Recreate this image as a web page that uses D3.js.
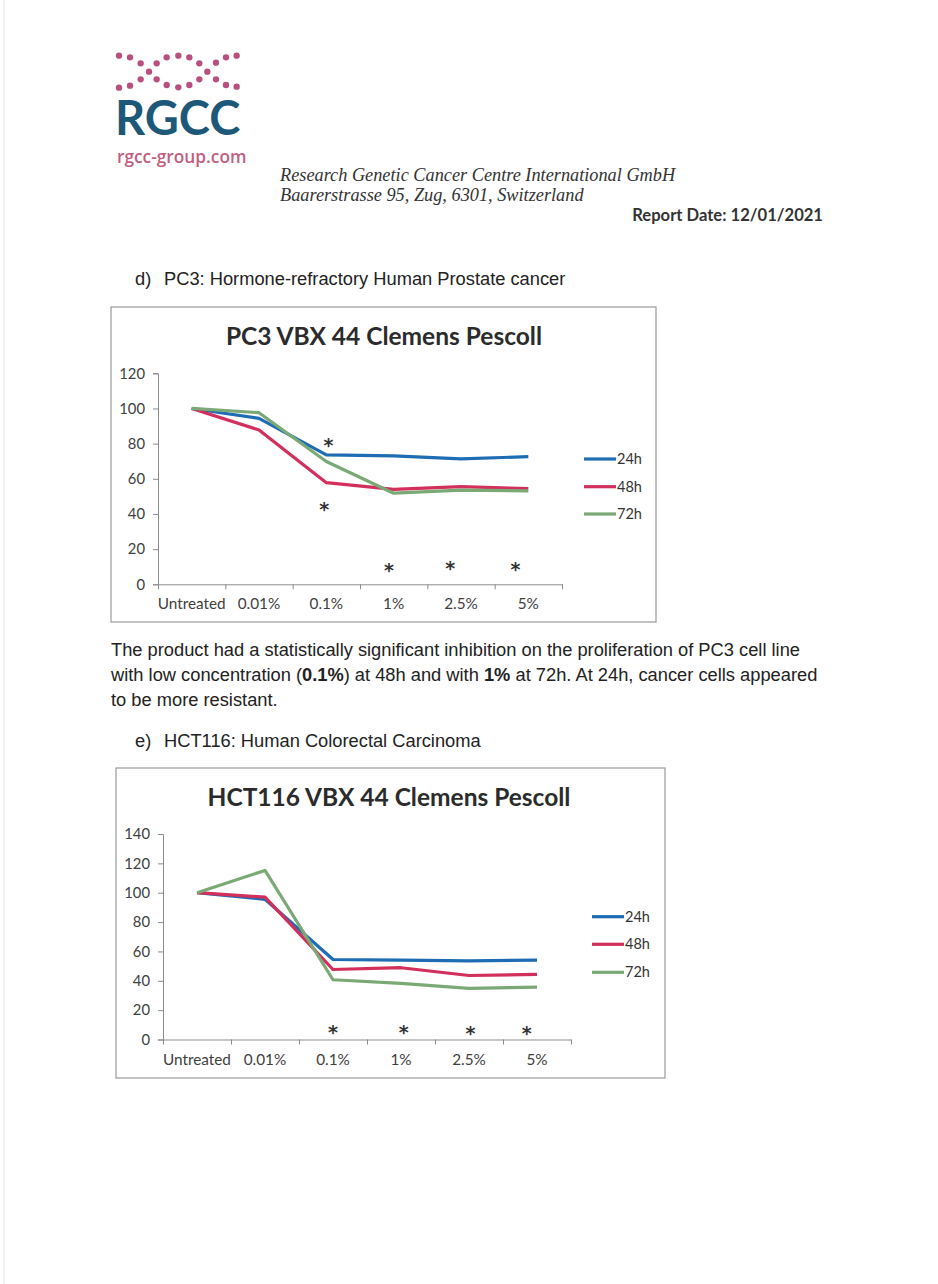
<!DOCTYPE html>
<html><head><meta charset="utf-8">
<script src="https://cdn.jsdelivr.net/npm/d3@7/dist/d3.min.js"></script>
<style>html,body{margin:0;padding:0;background:#fff;}svg{display:block;}</style>
</head><body>
<script>
// ---------- DATA ----------
const categories = ["Untreated", "0.01%", "0.1%", "1%", "2.5%", "5%"];
const seriesNames = ["24h", "48h", "72h"];

const pc3_24h = [100, 94.4, 73.6, 73.0, 71.3, 72.6];
const pc3_48h = [100, 87.8, 57.8, 54.0, 55.5, 54.4];
const pc3_72h = [100, 97.6, 69.8, 51.8, 53.6, 53.1];
const pc3Ticks = [0, 20, 40, 60, 80, 100, 120];
const pc3Stars = [["0.1%", 80.6, 0.03], ["0.1%", 44.2, -0.03], ["1%", 9.1, -0.07], ["2.5%", 10.6, -0.16], ["5%", 9.7, -0.19]];

const hct_24h = [100, 95.5, 54.5, 54.1, 53.6, 54.1];
const hct_48h = [100, 97.0, 47.7, 48.9, 43.6, 44.3];
const hct_72h = [100, 115.2, 40.7, 38.2, 34.8, 35.7];
const hctTicks = [0, 20, 40, 60, 80, 100, 120, 140];
const hctStars = [["0.1%", 6.8, 0.0], ["1%", 6.8, 0.04], ["2.5%", 5.9, 0.02], ["5%", 5.9, -0.15]];

const colors = {"24h": "#1e6db4", "48h": "#d22f5c", "72h": "#7ba975"};

// ---------- PAGE ----------
const W = 938, H = 1284;
const svg = d3.select("body").append("svg").attr("width", W).attr("height", H);
svg.append("rect").attr("width", W).attr("height", H).attr("fill", "#fff");
svg.append("line").attr("x1", 4).attr("x2", 4).attr("y1", 0).attr("y2", H).attr("stroke", "#e4e4e4").attr("stroke-width", 1);

// logo
const logoDots = [[57,47],[90,52],[200,52],[235,47],[268,52],[378,52],[410,47],
  [122,70],[170,70],[298,70],[348,68],[147,95],[322,95],
  [122,118],[170,118],[298,118],[348,118],
  [57,143],[90,137],[200,135],[235,142],[268,135],[378,135],[410,140]];
const logo = svg.append("g").attr("transform", "translate(100,40) scale(0.3333)");
logo.selectAll("circle").data(logoDots).join("circle")
  .attr("cx", d => d[0]).attr("cy", d => d[1]).attr("r", 9.5).attr("fill", "#b8507f");
svg.append("text").attr("x", 115).attr("y", 135).text("RGCC")
  .attr("font-family", "Lato, sans-serif").attr("font-size", 47).attr("font-weight", 700)
  .attr("fill", "#1e5878");
svg.append("text").attr("x", 117).attr("y", 163).text("rgcc-group.com")
  .attr("font-family", "'Open Sans', sans-serif").attr("font-size", 17.3).attr("font-weight", 600)
  .attr("fill", "#c0607f");

const serif = "'Liberation Serif', serif";
svg.append("text").attr("x", 280).attr("y", 181).text("Research Genetic Cancer Centre International GmbH")
  .attr("font-family", serif).attr("font-style", "italic").attr("font-size", 18.3).attr("fill", "#333");
svg.append("text").attr("x", 280).attr("y", 201).text("Baarerstrasse 95, Zug, 6301, Switzerland")
  .attr("font-family", serif).attr("font-style", "italic").attr("font-size", 18.3).attr("fill", "#333");
svg.append("text").attr("x", 823).attr("y", 221).attr("text-anchor", "end").text("Report Date: 12/01/2021")
  .attr("font-family", "Lato, sans-serif").attr("font-weight", 700).attr("font-size", 16.6).attr("fill", "#333");

const arial = "'Liberation Sans', Arial, sans-serif";
const fs = 18.3;
[["d)", "PC3: Hormone-refractory Human Prostate cancer", 285], ["e)", "HCT116: Human Colorectal Carcinoma", 747]].forEach(h => {
  svg.append("text").attr("x", 135).attr("y", h[2]).text(h[0]).attr("font-family", arial).attr("font-size", fs).attr("fill", "#222");
  svg.append("text").attr("x", 164).attr("y", h[2]).text(h[1]).attr("font-family", arial).attr("font-size", fs).attr("fill", "#222");
});

const para = svg.append("g").attr("font-family", arial).attr("font-size", fs).attr("fill", "#222");
para.append("text").attr("x", 111).attr("y", 656)
  .text("The product had a statistically significant inhibition on the proliferation of PC3 cell line");
const p2 = para.append("text").attr("x", 111).attr("y", 681);
p2.append("tspan").text("with low concentration (");
p2.append("tspan").attr("font-weight", 700).text("0.1%");
p2.append("tspan").text(") at 48h and with ");
p2.append("tspan").attr("font-weight", 700).text("1%");
p2.append("tspan").text(" at 72h. At 24h, cancer cells appeared");
para.append("text").attr("x", 111).attr("y", 706).text("to be more resistant.");

// ---------- CHART ----------
function drawChart(cfg) {
  const g = svg.append("g");
  g.append("rect").attr("x", cfg.frame[0]).attr("y", cfg.frame[1]).attr("width", cfg.frame[2]).attr("height", cfg.frame[3])
    .attr("fill", "none").attr("stroke", "#9a9a9a").attr("stroke-width", 1.2);
  const x = d3.scaleBand().domain(categories).range([cfg.x0, cfg.x1]).padding(0);
  const xi = d3.scaleLinear().domain([0, categories.length]).range([cfg.x0, cfg.x1]);
  const y = d3.scaleLinear().domain([0, d3.max(cfg.ticks)]).range([cfg.yb, cfg.yt]);
  const cx = c => x(c) + x.bandwidth() / 2;
  const font = "Lato, sans-serif";

  g.append("text").attr("x", cfg.titleX).attr("y", cfg.titleY).attr("text-anchor", "middle").text(cfg.title)
    .attr("font-family", font).attr("font-weight", 700).attr("font-size", cfg.titleSize).attr("fill", "#2b2b2b");

  const ya = g.append("g").attr("transform", `translate(${cfg.x0},0)`)
    .call(d3.axisLeft(y).tickValues(cfg.ticks).tickSize(5).tickPadding(8).tickFormat(d3.format("d")));
  ya.select(".domain").attr("stroke", "#8c8c8c");
  ya.selectAll(".tick line").attr("stroke", "#8c8c8c");
  ya.selectAll("text").attr("font-family", font).attr("font-size", 14.8).attr("fill", "#404040");

  const xa = g.append("g").attr("transform", `translate(0,${cfg.yb})`)
    .call(d3.axisBottom(xi).tickValues(d3.range(categories.length + 1)).tickSize(5).tickSizeOuter(0).tickFormat(""));
  xa.select(".domain").attr("stroke", "#8c8c8c");
  xa.selectAll(".tick line").attr("stroke", "#8c8c8c");
  g.append("g").selectAll("text").data(categories).join("text")
    .attr("x", d => cx(d)).attr("y", cfg.yb + 25).attr("text-anchor", "middle").text(d => d)
    .attr("font-family", font).attr("font-size", 15.3).attr("fill", "#404040");

  const line = d3.line().x((d, i) => cx(categories[i])).y(d => y(d));
  seriesNames.forEach((s, k) => {
    g.append("path").datum(cfg.series[k]).attr("d", line).attr("fill", "none")
      .attr("stroke", colors[s]).attr("stroke-width", 3.2).attr("stroke-linejoin", "round");
  });

  g.append("g").selectAll("text").data(cfg.stars).join("text")
    .attr("x", d => xi(categories.indexOf(d[0]) + 0.5 + d[2]))
    .attr("y", d => y(d[1]) + 9).attr("text-anchor", "middle").text("*")
    .attr("font-family", "'DejaVu Sans', sans-serif").attr("font-weight", 700).attr("font-size", 19).attr("fill", "#333");

  const leg = g.append("g");
  seriesNames.forEach((s, k) => {
    const ly = cfg.legY[k];
    leg.append("line").attr("x1", cfg.legX).attr("x2", cfg.legX + 32).attr("y1", ly).attr("y2", ly)
      .attr("stroke", colors[s]).attr("stroke-width", 3.2);
    leg.append("text").attr("x", cfg.legX + 33).attr("y", ly + 5).text(s)
      .attr("font-family", font).attr("font-size", 14.5).attr("fill", "#333");
  });
}

drawChart({
  title: "PC3 VBX 44 Clemens Pescoll", titleX: 384, titleY: 345, titleSize: 24.5,
  frame: [111, 307, 545, 315], x0: 158, x1: 562, yt: 373.3, yb: 584.3, ticks: pc3Ticks,
  series: [pc3_24h, pc3_48h, pc3_72h], stars: pc3Stars,
  legX: 584, legY: [459, 486.7, 514]
});
drawChart({
  title: "HCT116 VBX 44 Clemens Pescoll", titleX: 389, titleY: 806, titleSize: 24.5,
  frame: [116, 768, 549, 310], x0: 163, x1: 571, yt: 834, yb: 1039.5, ticks: hctTicks,
  series: [hct_24h, hct_48h, hct_72h], stars: hctStars,
  legX: 592, legY: [916.7, 944.3, 972.3]
});
</script>
</body></html>
